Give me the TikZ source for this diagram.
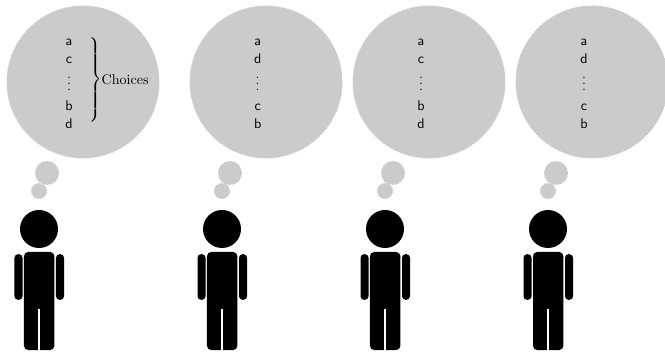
\documentclass[tikz,border=0pt]{standalone}
\usepackage{amsmath}
\usepackage{tikz}
\usetikzlibrary{positioning}
\definecolor{bubblegray}{HTML}{CBCBCB}
\tikzset{
  bubble/.style={
    circle, draw=bubblegray, fill=bubblegray, dash pattern=on 1.2pt off 0.8pt,
    line width=0.7pt, inner sep=0pt, minimum size=#1
  },
  personhead/.style={
    circle, fill=black, inner sep=0pt, minimum size=0.95cm
  },
  personbody/.style={
    fill=black, rounded corners=3pt, inner sep=0pt,
    minimum width=0.76cm, minimum height=2.45cm
  },
  personarm/.style={
    fill=black, rounded corners=2.5pt, inner sep=0pt,
    minimum width=0.2cm, minimum height=1.14cm
  },
  leggap/.style={draw=white, line width=1pt},
  ranklist/.style={inner sep=0pt, font=\sffamily}
}
\newcommand{\ranking}[4]{%
  $\renewcommand{\arraystretch}{1.07}\begin{array}{@{}c@{}}
    \mathsf{#1}\\ \mathsf{#2}\\ \raisebox{1.4pt}{$\vdots$}\\ \mathsf{#3}\\ \mathsf{#4}
  \end{array}$}

\begin{document}
\begin{tikzpicture}[x=0.025cm, y=-0.025cm]
  \useasboundingbox (0,0) rectangle (665,352);

  \foreach \i/\x/\cx/\tx/\rankb/\rankc/\rankd in {
      1/39/83/69/c/b/d, 2/222/266/257.7/d/c/b,
      3/385/429/421/c/b/d, 4/548/592/584/d/c/b} {
    \node[bubble=3.8cm] (cloud\i) at (\cx,82) {};
    \node[bubble=0.58cm] (puffa\i) at (\x+8,173) {};
    \node[bubble=0.38cm] (puffb\i) at (\x,191) {};
    \node[ranklist] (list\i) at (\tx,83.5) {\ranking{a}{\rankb}{\rankc}{\rankd}};

    \node[personhead] (head\i) at (\x,229) {};
    \node[personbody] (body\i) at (\x+0.2,301) {};
    \node[personarm] (larm\i) at (\x-20.5,277) {};
    \node[personarm] (rarm\i) at (\x+21,277) {};
    \coordinate (crotch\i) at (\x,309);
    \coordinate (feet\i) at (\x,352);
    \draw[leggap] (crotch\i) -- (feet\i);
  }

  % only the first bubble carries the brace
  \node[inner sep=0pt, anchor=west] (choicebrace) at (88,79.5)
    {$\left.\vcenter{\hbox{\rule{0pt}{62pt}}}\right\}$};
  \node[inner sep=0pt, right=-1pt of choicebrace] (choices) {Choices};
\end{tikzpicture}
\end{document}
